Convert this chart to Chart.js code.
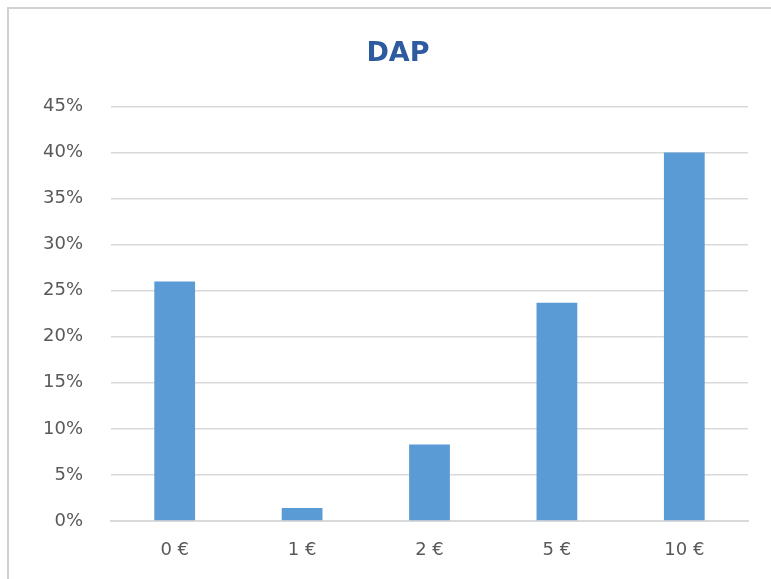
<!DOCTYPE html>
<html>
<head>
<meta charset="utf-8">
<script src="https://cdn.jsdelivr.net/npm/chart.js@4"></script>
<style>
  html, body { margin: 0; padding: 0; background: #ffffff; }
  #clip { position: relative; width: 771px; height: 579px; overflow: hidden; }
  #frame { position: absolute; left: 7px; top: 7px; width: 900px; height: 700px;
           border-top: 2px solid #d2d2d2; border-left: 2px solid #d2d2d2; }
  #wrap { position: absolute; left: 0; top: 0; width: 796px; height: 579px; }
</style>
</head>
<body>
<div id="clip">
<div id="frame"></div>
<div id="wrap"><canvas id="c" width="796" height="579"></canvas></div>
</div>
<script>
const categories = ["0 €", "1 €", "2 €", "5 €", "10 €"];
const dapValues = [26, 1.4, 8.3, 23.7, 40];
const yTicks = [0, 5, 10, 15, 20, 25, 30, 35, 40, 45];
const chartTitle = "DAP";

new Chart(document.getElementById("c"), {
  type: "bar",
  data: {
    labels: categories,
    datasets: [{
      label: chartTitle,
      data: dapValues,
      backgroundColor: "#5b9bd5",
      borderWidth: 0,
      categoryPercentage: 1,
      barPercentage: 0.32
    }]
  },
  options: {
    responsive: false,
    animation: false,
    devicePixelRatio: 1,
    layout: { padding: { left: 0, right: 0, top: 0, bottom: 0 } },
    plugins: {
      legend: { display: false },
      tooltip: { enabled: false },
      title: {
        display: true,
        text: chartTitle,
        color: "#2e5aa0",
        font: { family: "DejaVu Sans", size: 27, weight: "bold", lineHeight: 1.2 },
        padding: { top: 38, bottom: 36 }
      }
    },
    scales: {
      x: {
        grid: { display: false, drawTicks: false },
        border: { display: true, color: "#d9d9d9", width: 2 },
        ticks: { color: "#595959", font: { family: "DejaVu Sans", size: 18 }, padding: 19 },
        afterFit: (s) => { s.height = 58; }
      },
      y: {
        min: 0,
        max: 45,
        afterBuildTicks: (s) => { s.ticks = yTicks.map(v => ({ value: v })); },
        grid: { color: "#d9d9d9", lineWidth: 1.5, drawTicks: false },
        border: { display: false },
        ticks: {
          color: "#595959",
          font: { family: "DejaVu Sans", size: 18 },
          padding: 28,
          callback: (v) => v + "%"
        },
        afterFit: (s) => { s.width = 111; }
      },
      yRight: {
        position: "right",
        min: 0,
        max: 45,
        grid: { display: false, drawTicks: false },
        border: { display: false },
        ticks: { display: false },
        afterFit: (s) => { s.width = 48; }
      }
    }
  }
});
</script>
</body>
</html>
